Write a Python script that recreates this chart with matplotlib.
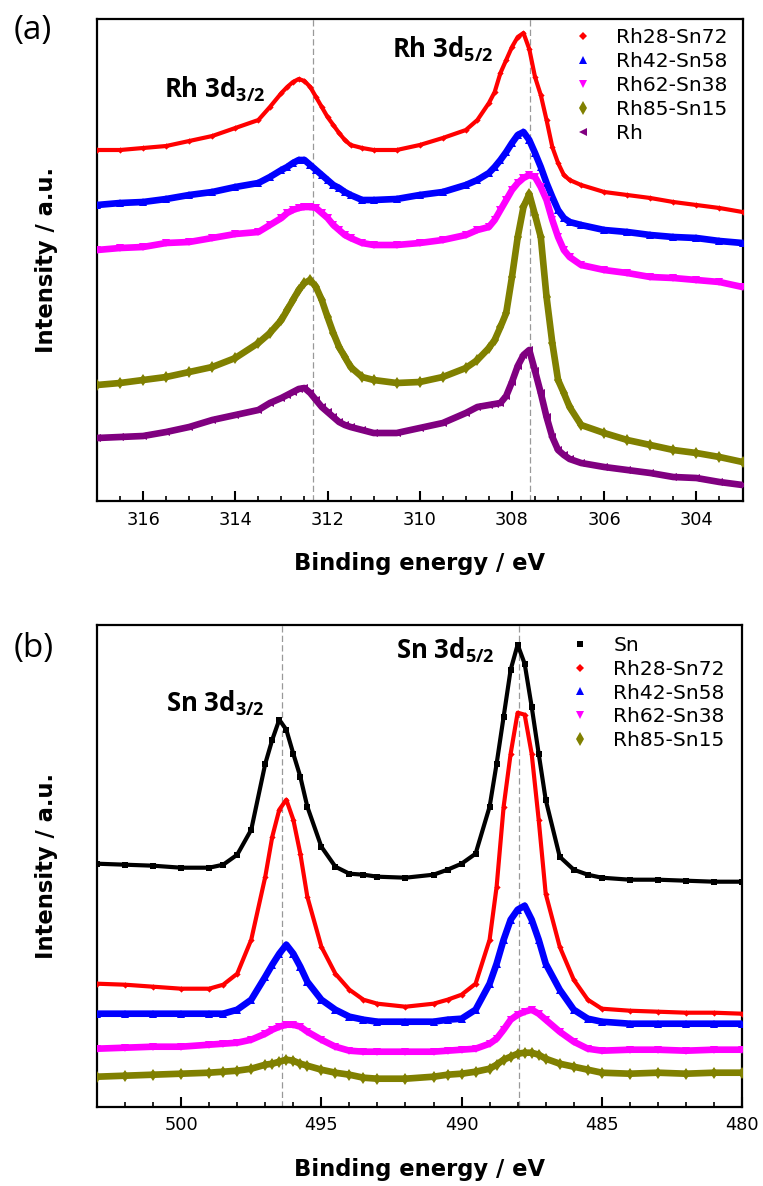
import numpy as np
import matplotlib
matplotlib.use("Agg")
import matplotlib.pyplot as plt
from matplotlib.lines import Line2D
from matplotlib.ticker import MultipleLocator

plt.rcParams['font.family'] = ['DejaVu Sans']
plt.rcParams['mathtext.fontset'] = 'custom'
plt.rcParams['mathtext.rm'] = 'Open Sans'
plt.rcParams['mathtext.bf'] = 'Open Sans:bold'

# ---------------- Rh 3d region ----------------
energy_rh = [317, 316.5, 316, 315.5, 315, 314.5, 314,
             313.5, 313.25, 313, 312.875, 312.75, 312.625, 312.5, 312.375, 312.25,
             312.125, 312, 311.875, 311.75, 311.625, 311.5, 311.25,
             311, 310.5, 310, 309.5, 309,
             308.75, 308.5, 308.375, 308.25, 308.125, 308, 307.875, 307.75, 307.625,
             307.5, 307.375, 307.25, 307.125, 307, 306.875, 306.75,
             306.5, 306, 305.5, 305, 304.5, 304, 303.5, 303]

rh_rh28 = [351, 351, 353, 355, 360, 365, 373,
           381, 394, 408, 414, 419, 422, 420, 414, 404,
           394, 384, 376, 368, 361, 356, 353,
           351, 351, 356, 363, 371,
           381, 398, 409, 428, 441, 454, 464, 468, 452,
           424, 406, 381, 354, 338, 326, 321,
           316, 309, 306, 303, 299, 296, 293, 289]
rh_rh42 = [296, 298, 299, 302, 306, 309, 314,
           318, 324, 331, 334, 338, 341, 341, 336, 331,
           326, 321, 316, 313, 309, 306, 301,
           301, 302, 306, 309, 316,
           321, 328, 334, 341, 349, 358, 366, 369, 361,
           348, 334, 318, 304, 291, 283, 279,
           276, 271, 269, 266, 264, 263, 260, 258]
rh_rh62 = [251, 253, 254, 258, 259, 263, 267,
           269, 276, 283, 288, 291, 293, 294, 294, 293,
           288, 283, 276, 271, 266, 263, 258,
           256, 256, 258, 261, 266,
           271, 274, 281, 291, 301, 311, 318, 323, 326,
           324, 314, 301, 281, 264, 251, 244,
           236, 231, 228, 224, 223, 221, 219, 214]
rh_rh85 = [116, 118, 121, 124, 129, 134, 143,
           158, 168, 181, 191, 201, 211, 218, 221, 214,
           201, 184, 168, 154, 144, 134, 124,
           121, 118, 119, 124, 133,
           141, 153, 161, 174, 188, 224, 264, 294, 307,
           286, 264, 204, 158, 121, 108, 94,
           76, 68, 61, 56, 51, 48, 44, 39]
rh_pure = [63, 64, 65, 69, 74, 81, 86,
           91, 98, 103, 106, 109, 112, 113, 108, 101,
           94, 89, 84, 79, 76, 74, 71,
           68, 68, 73, 78, 88,
           94, 96, 97, 98, 105, 119, 135, 146, 151,
           130, 108, 84, 64, 51, 46, 42,
           38, 34, 31, 28, 24, 23, 19, 16]

# ---------------- Sn 3d region ----------------
energy_sn = [503, 502, 501, 500, 499, 498.5, 498, 497.5, 497, 496.75, 496.5,
             496.25, 496, 495.75, 495.5, 495, 494.5, 494, 493.5, 493, 492, 491,
             490.5, 490, 489.5, 489, 488.75, 488.5, 488.25, 488, 487.75, 487.5,
             487.25, 487, 486.5, 486, 485.5, 485, 484, 483, 482, 481, 480]

sn_pure = [243, 242, 241, 239, 239, 242, 252, 277, 343, 367, 387,
           377, 353, 330, 300, 260, 240, 233, 232, 230, 229, 232,
           237, 243, 253, 300, 343, 390, 437, 462, 443, 400,
           353, 307, 250, 237, 232, 229, 227, 227, 226, 225, 225]
sn_rh28 = [123, 122, 120, 118, 118, 122, 133, 167, 230, 270, 297,
           307, 287, 253, 210, 160, 133, 117, 107, 103, 100, 103,
           107, 112, 123, 167, 220, 300, 353, 394, 392, 353,
           287, 213, 160, 127, 107, 98, 96, 95, 94, 94, 93]
sn_rh42 = [93, 93, 93, 93, 93, 93, 97, 107, 130, 142, 153,
           162, 153, 140, 125, 107, 97, 90, 87, 85, 85, 85,
           87, 88, 97, 123, 143, 167, 187, 197, 201, 187,
           167, 143, 117, 97, 88, 85, 83, 83, 83, 83, 83]
sn_rh62 = [58, 59, 60, 60, 62, 63, 64, 67, 73, 77, 80,
           82, 82, 80, 75, 67, 60, 56, 55, 55, 55, 55,
           56, 57, 58, 63, 68, 77, 87, 92, 95, 97,
           93, 87, 75, 65, 58, 56, 57, 57, 56, 57, 57]
sn_rh85 = [30, 31, 32, 33, 34, 35, 36, 38, 42, 43, 45,
           47, 46, 43, 41, 37, 34, 32, 29, 28, 28, 30,
           32, 33, 35, 38, 42, 47, 50, 53, 54, 54,
           52, 48, 43, 40, 37, 34, 33, 34, 33, 34, 34]

rh_labels = ['Rh28-Sn72', 'Rh42-Sn58', 'Rh62-Sn38', 'Rh85-Sn15', 'Rh']
sn_labels = ['Sn', 'Rh28-Sn72', 'Rh42-Sn58', 'Rh62-Sn38', 'Rh85-Sn15']

# marker, colour, marker size, band width
styles = {
    'Sn':        ('s', '#000000', 4.0, 3.0),
    'Rh28-Sn72': ('D', '#ff0000', 3.2, 3.0),
    'Rh42-Sn58': ('^', '#0000ff', 5.5, 4.8),
    'Rh62-Sn38': ('v', '#ff00ff', 5.5, 4.8),
    'Rh85-Sn15': ('d', '#808000', 6.5, 4.8),
    'Rh':        ('<', '#800080', 5.5, 4.8),
}

W, H = 763, 1186
fig = plt.figure(figsize=(W / 100, H / 100), dpi=100)
ax_a = fig.add_axes([97 / W, 1 - 501 / H, 645.5 / W, 482 / H])
ax_b = fig.add_axes([97 / W, 1 - 1106.7 / H, 645 / W, 482 / H])


def draw_panel(ax, energy, series, labels, xlim, major, minor, dashes):
    for xv in dashes:
        ax.axvline(xv, color='#999999', ls=(0, (5, 2.6)), lw=0.9, zorder=1)
    for lab, vals in zip(labels, series):
        m, c, ms, lw = styles[lab]
        ax.plot(energy, vals, color=c, lw=lw, solid_joinstyle='round',
                solid_capstyle='round', marker=m, ms=ms, mew=0, zorder=3)
    ax.set_xlim(*xlim)
    ax.set_ylim(0, 482)
    ax.xaxis.set_major_locator(MultipleLocator(major))
    ax.xaxis.set_minor_locator(MultipleLocator(minor))
    ax.tick_params(axis='x', which='major', direction='in', length=7, width=1.5,
                   labelsize=12.8, pad=7, top=False)
    ax.tick_params(axis='x', which='minor', direction='in', length=3.5, width=1.2,
                   top=False)
    ax.tick_params(axis='y', left=False, labelleft=False)
    for sp in ax.spines.values():
        sp.set_linewidth(1.6)
    ax.set_xlabel('Binding energy / eV', fontsize=16.3, fontweight='bold', labelpad=17)
    ax.set_ylabel('Intensity / a.u.', fontsize=16.3, fontweight='bold', labelpad=28)
    handles = [Line2D([], [], ls='none', marker=styles[l][0], color=styles[l][1],
                      ms=styles[l][2] + 0.5, mew=0) for l in labels]
    return handles


h_a = draw_panel(ax_a, energy_rh, [rh_rh28, rh_rh42, rh_rh62, rh_rh85, rh_pure],
                 rh_labels, (317, 303), 2, 0.5, [312.32, 307.60])
h_b = draw_panel(ax_b, energy_sn, [sn_pure, sn_rh28, sn_rh42, sn_rh62, sn_rh85],
                 sn_labels, (503, 480), 5, 1, [496.42, 487.96])

leg_kw = dict(frameon=False, fontsize=14.6, handlelength=1.0, handletextpad=1.15,
              labelspacing=0.24, borderpad=0, borderaxespad=0, loc='upper left')
ax_a.legend(h_a, rh_labels, bbox_to_anchor=(0.737, 0.981), **leg_kw)
ax_b.legend(h_b, sn_labels, bbox_to_anchor=(0.733, 0.977), **leg_kw)

ann_kw = dict(family='Open Sans', fontweight='bold', fontsize=18.5,
              ha='left', va='baseline', zorder=5)
ax_a.text(315.54, 404, r'Rh 3d$_{\mathbf{3/2}}$', **ann_kw)
ax_a.text(310.61, 444, r'Rh 3d$_{\mathbf{5/2}}$', **ann_kw)
ax_b.text(500.53, 395, r'Sn 3d$_{\mathbf{3/2}}$', **ann_kw)
ax_b.text(492.33, 448, r'Sn 3d$_{\mathbf{5/2}}$', **ann_kw)

fig.text(33 / W, 1 - 30 / H, '(a)', family='Open Sans', fontsize=24, ha='center', va='center')
fig.text(34 / W, 1 - 648 / H, '(b)', family='Open Sans', fontsize=24, ha='center', va='center')

fig.savefig('out.png', dpi=100)
